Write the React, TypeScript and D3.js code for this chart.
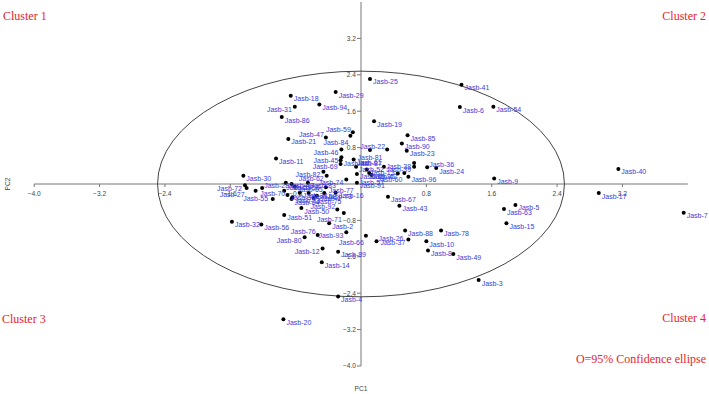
import React from "react";
import * as d3 from "d3";

const sampleIds: number[] = [
  1, 2, 3, 4, 5, 6, 7, 8, 9, 10, 11, 12, 13, 14, 15, 16, 17, 18, 19, 20, 21, 22, 23, 24,
  25, 26, 27, 28, 29, 30, 31, 32, 33, 34, 35, 36, 37, 38, 39, 40, 41, 42, 43, 44, 45, 46, 47, 48,
  49, 50, 51, 52, 53, 54, 55, 56, 57, 58, 59, 60, 61, 62, 63, 64, 65, 66, 67, 68, 69, 70, 71, 72,
  73, 74, 75, 76, 77, 78, 79, 80, 81, 82, 83, 84, 85, 86, 87, 88, 89, 90, 91, 92, 93, 94, 95, 96,
];

const pc1Scores: number[] = [
  -0.54, -0.39, 1.44, -0.28, 1.89, 1.21, 3.95, 0.82, 1.63, 0.8, -1.04, -0.47, 0.07, -0.48, 1.78, -0.31,
  2.91, -0.86, 0.16, -0.95, -0.89, 0.32, 0.56, 0.92, 0.11, 0.19, -1.4, -1.21, -0.31, -1.44, -0.81, -1.58,
  -0.84, -0.75, -0.9, 0.81, 0.58, 0.65, 0.65, 3.15, 1.23, 0.1, 0.47, -0.25, -0.24, -0.24, -0.43, -0.92,
  1.13, -0.73, -0.94, -0.06, -0.94, 1.62, -1.29, -1.22, 0.13, -0.85, -0.1, 0.53, -0.09, -0.42, 1.75, -0.85,
  -0.81, 0.06, 0.33, -0.64, -0.25, -1.08, -0.21, -1.42, -0.45, -0.18, -0.58, -0.53, -0.43, 0.98, -0.05, -0.69,
  0.11, -0.46, -0.65, -0.13, 0.57, -0.97, 0.28, 0.54, -0.28, 0.5, -0.05, -0.29, -0.18, -0.51, 0.45, 0.58,
];

const pc2Scores: number[] = [
  -0.26, -0.86, -2.11, -2.47, -0.46, 1.69, -0.63, -1.46, 0.12, -1.26, 0.56, -1.42, 0.32, -1.72, -0.86, -0.19,
  -0.2, 1.94, 1.38, -2.97, 0.99, 0.76, 0.73, 0.35, 2.31, -1.26, -0.09, -0.09, 2.02, 0.18, 1.7, -0.83,
  -0.29, -0.19, -0.24, 0.37, -1.22, 0.46, 0.38, 0.33, 2.18, 0.24, -0.48, 0.52, 0.59, 0.76, 1.02, 0.03,
  -1.54, -0.53, -0.68, 0.38, -0.15, 1.7, -0.15, -0.89, 0.2, 0.0, 1.14, 0.24, 0.54, 0.18, -0.55, -0.33,
  -0.06, -1.14, -0.28, -0.2, 0.44, -0.33, -0.64, -0.03, -0.2, 0.1, -0.31, -1.12, -0.07, -1.02, 0.22, -1.17,
  0.75, 0.27, 0.03, 1.06, 1.07, 1.47, 0.38, -1.02, -1.49, 0.89, 0.03, -0.56, -1.06, 1.75, 0.23, 0.16,
];

const xTickValues: number[] = [-4.0, -3.2, -2.4, -1.6, -0.8, 0.8, 1.6, 2.4, 3.2];
const yTickValues: number[] = [3.2, 2.4, 1.6, 0.8, -0.8, -1.6, -2.4, -3.2, -4.0];
const axisDomain: [number, number] = [-4, 4];
const ellipseRadii: [number, number] = [2.49, 2.48];
const clusterNames: string[] = ["Cluster 1", "Cluster 2", "Cluster 3", "Cluster 4"];
const legendText = "O=95% Confidence ellipse";

// label placement (style only)
const labelLeft = new Set([31, 46, 45, 69, 82, 62, 72, 95, 38, 39, 37, 12, 80, 93, 74]);
const labelLeftUp = new Set([59, 47, 22, 87, 76, 92]);
const labelLeftDown = new Set([84, 27, 60, 66, 71]);
const labelRightUp = new Set([28, 53, 36, 26]);
const labelCenterUp = new Set([70]);
const labelCenterDown = new Set([81, 57, 55]);

const W = 709;
const H = 394;

export default function App() {
  const x = d3.scaleLinear().domain(axisDomain).range([34.2, 687.8]);
  const y = d3.scaleLinear().domain(axisDomain).range([366, 2]);
  const x0 = x(0);
  const y0 = y(0);
  const fmt = d3.format(".1f");
  const labelFont = "'Liberation Sans', Arial, sans-serif";
  const tickColor = "#444";
  const axisColor = "#777";
  const blue = "#3b3bdc";
  const red = "#e8242c";

  const points = sampleIds.map((id, i) => ({ id, px: x(pc1Scores[i]), py: y(pc2Scores[i]) }));

  const labelAttrs = (id: number, px: number, py: number) => {
    if (labelLeft.has(id)) return { x: px - 3, y: py + 5.5, anchor: "end" };
    if (labelLeftUp.has(id)) return { x: px - 2, y: py - 0.5, anchor: "end" };
    if (labelLeftDown.has(id)) return { x: px - 2, y: py + 9, anchor: "end" };
    if (labelRightUp.has(id)) return { x: px + 2, y: py - 0.5, anchor: "start" };
    if (labelCenterUp.has(id)) return { x: px, y: py - 3, anchor: "middle" };
    if (labelCenterDown.has(id)) return { x: px, y: py + 10, anchor: "middle" };
    return { x: px + 3, y: py + 5.5, anchor: "start" };
  };

  return (
    <svg
      width={W}
      height={H}
      style={{ position: "absolute", left: 0, top: 0, display: "block", background: "#fff" }}
    >
      {/* axes */}
      <line x1={x(axisDomain[0])} x2={x(axisDomain[1])} y1={y0} y2={y0} stroke={axisColor} strokeWidth={1} />
      <line x1={x0} x2={x0} y1={y(axisDomain[1])} y2={y(axisDomain[0])} stroke={axisColor} strokeWidth={1} />
      {xTickValues.map((t) => (
        <g key={"xt" + t}>
          <line x1={x(t)} x2={x(t)} y1={y0} y2={y0 + 3} stroke={axisColor} />
          <text x={x(t)} y={y0 + 12} fontSize={6.6} fill={tickColor} textAnchor="middle" fontFamily={labelFont}>
            {fmt(t)}
          </text>
        </g>
      ))}
      {yTickValues.map((t) => (
        <g key={"yt" + t}>
          <line x1={x0 - 4} x2={x0} y1={y(t)} y2={y(t)} stroke={axisColor} />
          <text x={x0 - 5} y={y(t) + 2.3} fontSize={6.6} fill={tickColor} textAnchor="end" fontFamily={labelFont}>
            {fmt(t)}
          </text>
        </g>
      ))}
      <text
        transform={`translate(10,${y0}) rotate(-90)`}
        fontSize={6.6}
        fill={tickColor}
        textAnchor="middle"
        fontFamily={labelFont}
      >
        PC2
      </text>
      <text x={x0} y={391} fontSize={6.6} fill={tickColor} textAnchor="middle" fontFamily={labelFont}>
        PC1
      </text>

      {/* confidence ellipse */}
      <ellipse
        cx={x(0)}
        cy={y(0)}
        rx={x(ellipseRadii[0]) - x(0)}
        ry={y(0) - y(ellipseRadii[1])}
        fill="none"
        stroke="#444"
        strokeWidth={1}
      />

      {/* points */}
      {points.map((p) => (
        <circle key={"c" + p.id} cx={p.px} cy={p.py} r={2} fill="#000" />
      ))}
      {points.map((p) => {
        const a = labelAttrs(p.id, p.px, p.py);
        return (
          <text
            key={"l" + p.id}
            x={a.x}
            y={a.y}
            fontSize={7}
            fill={blue}
            textAnchor={a.anchor as any}
            fontFamily={labelFont}
          >
            {"Jasb-" + p.id}
          </text>
        );
      })}

      {/* cluster annotations */}
      <text x={3} y={20} fontSize={12} fill={red} fontFamily="'Liberation Serif', 'Times New Roman', serif">
        {clusterNames[0]}
      </text>
      <text x={706} y={20} fontSize={12} fill={red} textAnchor="end" fontFamily="'Liberation Serif', 'Times New Roman', serif">
        {clusterNames[1]}
      </text>
      <text x={2} y={323} fontSize={12} fill={red} fontFamily="'Liberation Serif', 'Times New Roman', serif">
        {clusterNames[2]}
      </text>
      <text x={706} y={322} fontSize={12} fill={red} textAnchor="end" fontFamily="'Liberation Serif', 'Times New Roman', serif">
        {clusterNames[3]}
      </text>
      <text x={706} y={363} fontSize={12} fill={red} textAnchor="end" fontFamily="'Liberation Serif', 'Times New Roman', serif">
        {legendText}
      </text>
    </svg>
  );
}
